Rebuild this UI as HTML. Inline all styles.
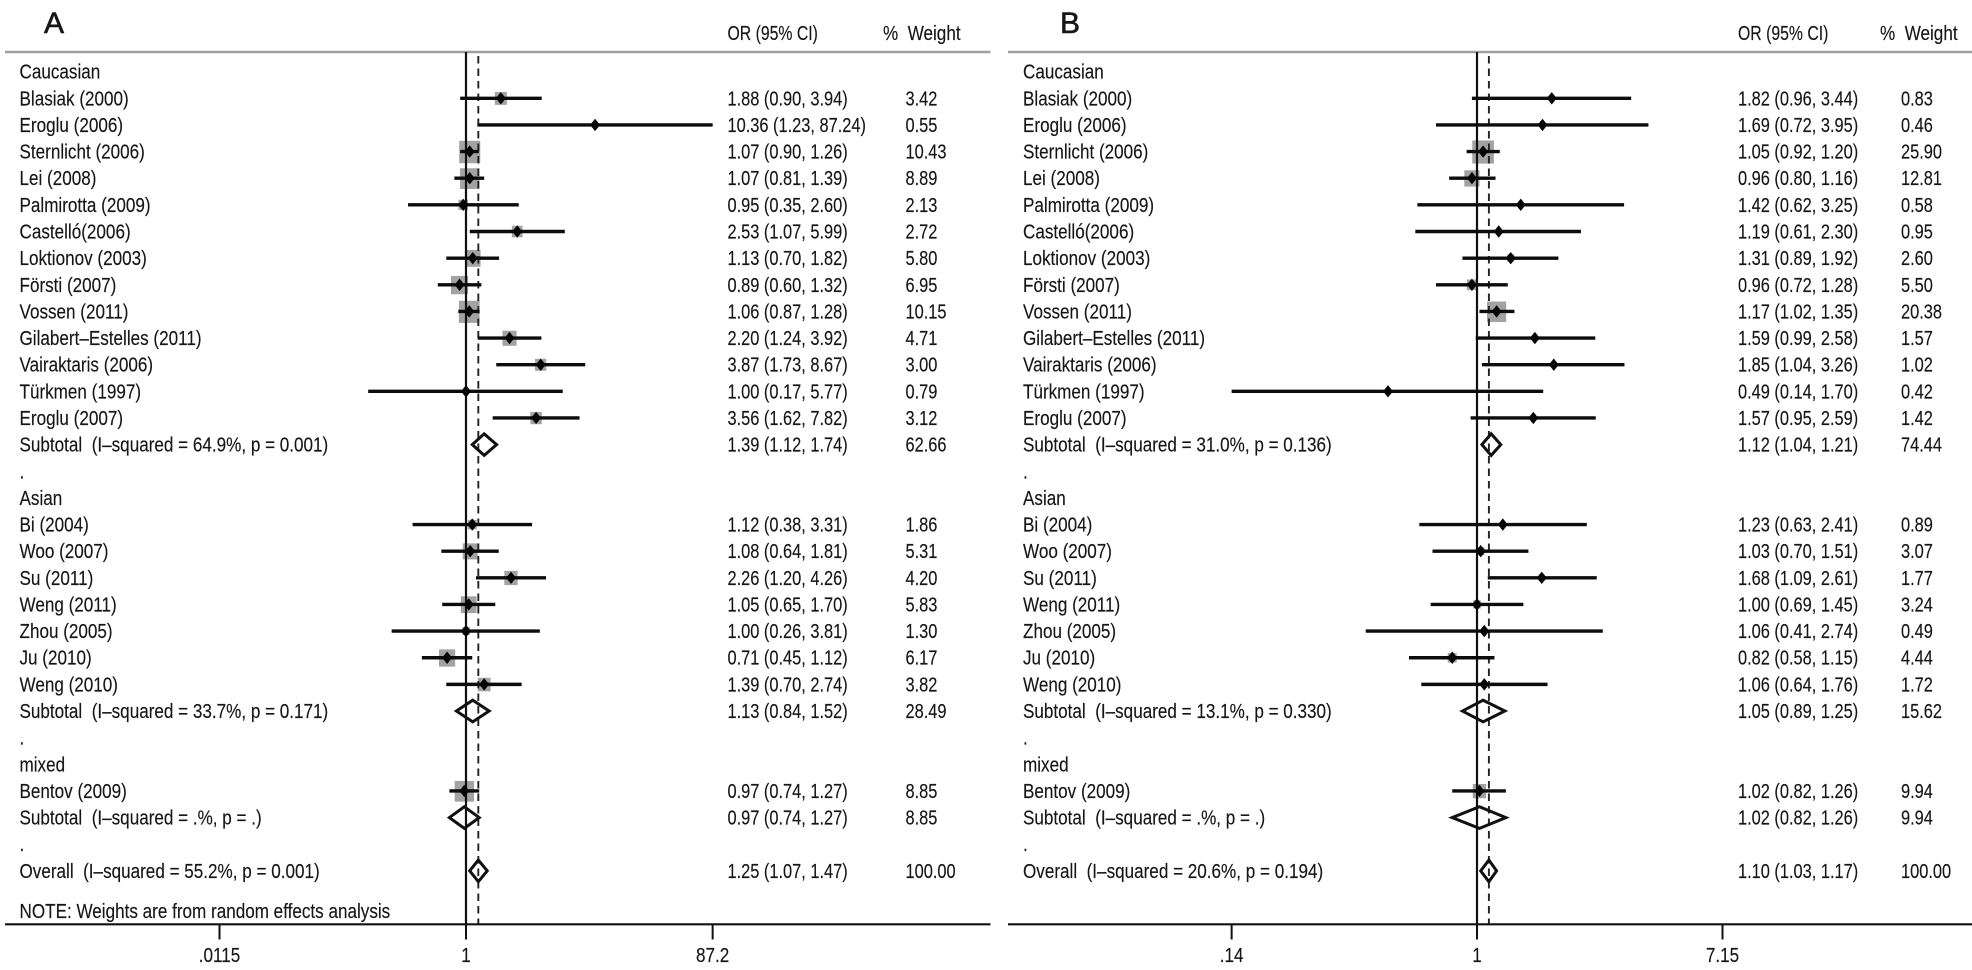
<!DOCTYPE html>
<html lang="en">
<head>
<meta charset="utf-8">
<title>Forest plots A and B</title>
<style>
  html, body { margin: 0; padding: 0; background: #fff; }
  svg { display: block; }
  text { font-family: "Liberation Sans", sans-serif; font-size: 20px; fill: #161616; stroke: #161616; stroke-width: 0.15px; }
</style>
</head>
<body>
<svg id="chart" xmlns="http://www.w3.org/2000/svg" width="1972" height="970" viewBox="0 0 1972 970"></svg>
<script>
const rowLabelsA = ["Caucasian","Blasiak (2000)","Eroglu (2006)","Sternlicht (2006)","Lei (2008)","Palmirotta (2009)","Castelló(2006)","Loktionov (2003)","Försti (2007)","Vossen (2011)","Gilabert–Estelles (2011)","Vairaktaris (2006)","Türkmen (1997)","Eroglu (2007)","Subtotal  (I–squared = 64.9%, p = 0.001)",".","Asian","Bi (2004)","Woo (2007)","Su (2011)","Weng (2011)","Zhou (2005)","Ju (2010)","Weng (2010)","Subtotal  (I–squared = 33.7%, p = 0.171)",".","mixed","Bentov (2009)","Subtotal  (I–squared = .%, p = .)",".","Overall  (I–squared = 55.2%, p = 0.001)"];
const orA = [null,1.88,10.36,1.07,1.07,0.95,2.53,1.13,0.89,1.06,2.20,3.87,1.00,3.56,1.39,null,null,1.12,1.08,2.26,1.05,1.00,0.71,1.39,1.13,null,null,0.97,0.97,null,1.25];
const lowA = [null,0.90,1.23,0.90,0.81,0.35,1.07,0.70,0.60,0.87,1.24,1.73,0.17,1.62,1.12,null,null,0.38,0.64,1.20,0.65,0.26,0.45,0.70,0.84,null,null,0.74,0.74,null,1.07];
const highA = [null,3.94,87.24,1.26,1.39,2.60,5.99,1.82,1.32,1.28,3.92,8.67,5.77,7.82,1.74,null,null,3.31,1.81,4.26,1.70,3.81,1.12,2.74,1.52,null,null,1.27,1.27,null,1.47];
const weightA = [null,3.42,0.55,10.43,8.89,2.13,2.72,5.80,6.95,10.15,4.71,3.00,0.79,3.12,62.66,null,null,1.86,5.31,4.20,5.83,1.30,6.17,3.82,28.49,null,null,8.85,8.85,null,100.00];
const tickValuesA = [0.0115,1,87.2];
const tickLabelsA = [".0115","1","87.2"];

const rowLabelsB = ["Caucasian","Blasiak (2000)","Eroglu (2006)","Sternlicht (2006)","Lei (2008)","Palmirotta (2009)","Castelló(2006)","Loktionov (2003)","Försti (2007)","Vossen (2011)","Gilabert–Estelles (2011)","Vairaktaris (2006)","Türkmen (1997)","Eroglu (2007)","Subtotal  (I–squared = 31.0%, p = 0.136)",".","Asian","Bi (2004)","Woo (2007)","Su (2011)","Weng (2011)","Zhou (2005)","Ju (2010)","Weng (2010)","Subtotal  (I–squared = 13.1%, p = 0.330)",".","mixed","Bentov (2009)","Subtotal  (I–squared = .%, p = .)",".","Overall  (I–squared = 20.6%, p = 0.194)"];
const orB = [null,1.82,1.69,1.05,0.96,1.42,1.19,1.31,0.96,1.17,1.59,1.85,0.49,1.57,1.12,null,null,1.23,1.03,1.68,1.00,1.06,0.82,1.06,1.05,null,null,1.02,1.02,null,1.10];
const lowB = [null,0.96,0.72,0.92,0.80,0.62,0.61,0.89,0.72,1.02,0.99,1.04,0.14,0.95,1.04,null,null,0.63,0.70,1.09,0.69,0.41,0.58,0.64,0.89,null,null,0.82,0.82,null,1.03];
const highB = [null,3.44,3.95,1.20,1.16,3.25,2.30,1.92,1.28,1.35,2.58,3.26,1.70,2.59,1.21,null,null,2.41,1.51,2.61,1.45,2.74,1.15,1.76,1.25,null,null,1.26,1.26,null,1.17];
const weightB = [null,0.83,0.46,25.90,12.81,0.58,0.95,2.60,5.50,20.38,1.57,1.02,0.42,1.42,74.44,null,null,0.89,3.07,1.77,3.24,0.49,4.44,1.72,15.62,null,null,9.94,9.94,null,100.00];
const tickValuesB = [0.14,1,7.15];
const tickLabelsB = [".14","1","7.15"];

const SVG_NS = "http://www.w3.org/2000/svg";
const chart = document.getElementById("chart");
const TEXT_SQUEEZE = 0.855;
const NUMBER_SQUEEZE = 0.82;
const HEADER_SQUEEZE = 0.79;
const ROW_TOP = 71.66;
const ROW_STEP = 26.64;
const HEADER_Y = 52;
const AXIS_Y = 924.3;
const TICK_END = 939.5;

function rowY(i) { return ROW_TOP + ROW_STEP * i; }

function makeShape(tag, attrs, parent) {
  const el = document.createElementNS(SVG_NS, tag);
  for (const k in attrs) el.setAttribute(k, attrs[k]);
  parent.appendChild(el);
  return el;
}

function addText(parent, str, x, y, anchor, size, squeeze) {
  const sx = squeeze || TEXT_SQUEEZE;
  const el = makeShape("text", { transform: "translate(" + x + "," + y + ") scale(" + sx + ",1)", "text-anchor": anchor || "start" }, parent);
  if (size) el.style.fontSize = size + "px";
  el.style.whiteSpace = "pre";
  el.setAttribute("xml:space", "preserve");
  el.textContent = str;
  return el;
}

function drawPanel(p) {
  const xScale = v => p.x1 + p.pxPerLn * Math.log(v);
  const g = makeShape("g", {}, chart);
  
  

  const title = addText(g, p.id, p.titleX, 33, "start", 30, 1);
  title.style.strokeWidth = "0.6px";
  
  

  const orHead = addText(g, "OR (95% CI)", p.orX, 40, "start", 20, HEADER_SQUEEZE);
  
  

  const wtHead = addText(g, "%  Weight", p.pctX, 40);
  
  

  const topLine = makeShape("line", { x1: p.left, x2: p.right, y1: HEADER_Y, y2: HEADER_Y, stroke: "#a0a0a0", "stroke-width": 2.6 }, g);
  
  

  const overallIdx = p.or.length - 1;
  const overallX = xScale(p.or[overallIdx]);

  // weight boxes first, underneath the reference lines
  p.or.forEach((v, i) => {
    if (v === null || /^(Subtotal|Overall)/.test(p.labels[i])) return;
    const side = Math.sqrt(p.weight[i]) * p.boxScale;
    const box = makeShape("rect", { x: xScale(v) - side / 2, y: rowY(i) - side / 2 - 0.3, width: side, height: side * 1.07, fill: "#a3a3a3" }, g);
    
    
  });

  const refLine = makeShape("line", { x1: p.x1, x2: p.x1, y1: HEADER_Y, y2: AXIS_Y, stroke: "#111", "stroke-width": 2.2 }, g);
  
  

  const dashLine = makeShape("line", { x1: overallX, x2: overallX, y1: 56, y2: AXIS_Y, stroke: "#222", "stroke-width": 1.9, "stroke-dasharray": "7.5 5" }, g);
  
  

  p.labels.forEach((label, i) => {
    const y = rowY(i);
    const lab = addText(g, label, p.labelX, y + 7);
    
    

    const v = p.or[i];
    if (v === null) return;
    const xv = xScale(v), xl = xScale(p.low[i]), xh = xScale(p.high[i]);
    if (/^(Subtotal|Overall)/.test(label)) {
      const dia = makeShape("polygon", { points: [xl + "," + y, xv + "," + (y - 10.8), xh + "," + y, xv + "," + (y + 10.8)].join(" "), fill: "none", stroke: "#111", "stroke-width": 3, "stroke-linejoin": "miter" }, g);
      
      
    } else {
      const ci = makeShape("line", { x1: xl, x2: xh, y1: y, y2: y, stroke: "#0c0c0c", "stroke-width": 3.4 }, g);
      
      
      const pt = makeShape("polygon", { points: [(xv - 5) + "," + y, xv + "," + (y - 6.2), (xv + 5) + "," + y, xv + "," + (y + 6.2)].join(" "), fill: "#050505" }, g);
      
      
    }
    const ciText = addText(g, v.toFixed(2) + " (" + p.low[i].toFixed(2) + ", " + p.high[i].toFixed(2) + ")", p.orX, y + 7, "start", 20, NUMBER_SQUEEZE);
    
    
    const wtText = addText(g, p.weight[i].toFixed(2), p.wtX, y + 7, "start", 20, NUMBER_SQUEEZE);
    
    
  });

  if (p.note) {
    const note = addText(g, p.note, p.labelX, 918);
    
    
  }

  const axis = makeShape("line", { x1: p.left, x2: p.right, y1: AXIS_Y, y2: AXIS_Y, stroke: "#111", "stroke-width": 2.2 }, g);
  
  

  p.tickValues.forEach((t, i) => {
    const x = xScale(t);
    const tick = makeShape("line", { x1: x, x2: x, y1: AXIS_Y, y2: TICK_END, stroke: "#111", "stroke-width": 2 }, g);
    
    
    const tl = addText(g, p.tickLabels[i], x, 962, "middle");
    
    
  });
}

drawPanel({
  id: "A", labels: rowLabelsA, or: orA, low: lowA, high: highA, weight: weightA,
  tickValues: tickValuesA, tickLabels: tickLabelsA,
  x1: 466, pxPerLn: 55.2, boxScale: 6.5,
  left: 5, right: 990.5, labelX: 19.5, orX: 727.5, wtX: 905.5, pctX: 883, titleX: 44,
  note: "NOTE: Weights are from random effects analysis"
});
drawPanel({
  id: "B", labels: rowLabelsB, or: orB, low: lowB, high: highB, weight: weightB,
  tickValues: tickValuesB, tickLabels: tickLabelsB,
  x1: 1477, pxPerLn: 124.8, boxScale: 4.25,
  left: 1008, right: 1972, labelX: 1023, orX: 1738, wtX: 1901, pctX: 1880, titleX: 1060,
  note: ""
});
</script>
</body>
</html>
